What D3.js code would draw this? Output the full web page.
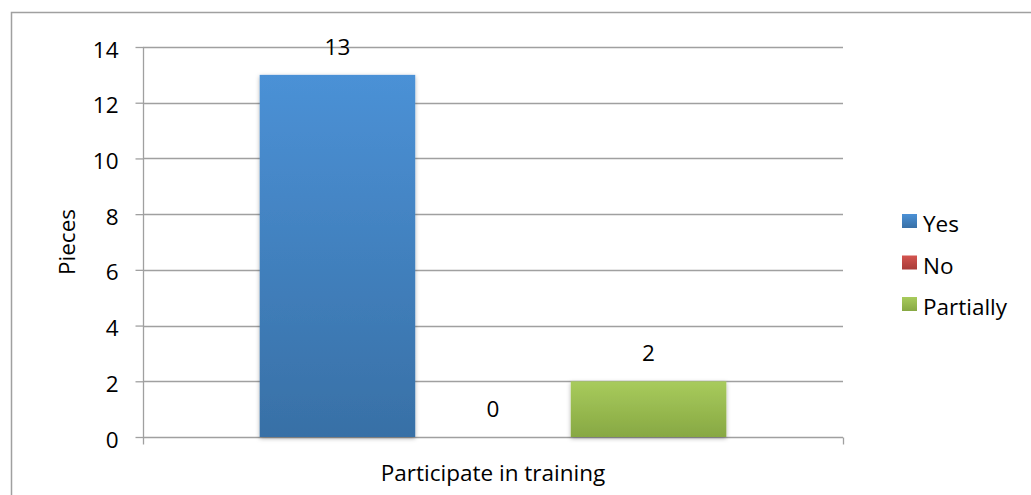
<!DOCTYPE html>
<html>
<head>
<meta charset="utf-8">
<script src="https://cdn.jsdelivr.net/npm/d3@7"></script>
<style>
  html, body { margin: 0; padding: 0; background: #fff; }
  svg { display: block; font-family: "Open Sans", "Lato", sans-serif; }
</style>
</head>
<body>
<svg id="chart" width="1031" height="495"></svg>
<script>
// Survey answers: participation in training
const categories = ["Participate in training"];
const seriesNames = ["Yes", "No", "Partially"];
const seriesValues = [13, 0, 2];
const yTicks = [0, 2, 4, 6, 8, 10, 12, 14];

const colors = {
  Yes: ["#4b91d6", "#3870a6"],
  No: ["#d4544f", "#a83c39"],
  Partially: ["#a8cb5c", "#87a843"]
};

const FS = 22.5;
const svg = d3.select("#chart");
const W = 1031, H = 495;
const plot = { left: 143, right: 843, top: 47, bottom: 437 };

// Gradients and shadow
const defs = svg.append("defs");
seriesNames.forEach((s, i) => {
  const g = defs.append("linearGradient")
    .attr("id", "grad" + i).attr("x1", 0).attr("y1", 0).attr("x2", 0).attr("y2", 1);
  g.append("stop").attr("offset", "0%").attr("stop-color", colors[s][0]);
  g.append("stop").attr("offset", "100%").attr("stop-color", colors[s][1]);
});
const f = defs.append("filter").attr("id", "shadow")
  .attr("x", "-10%").attr("y", "-10%").attr("width", "120%").attr("height", "120%");
f.append("feDropShadow").attr("dx", 0).attr("dy", 1.5).attr("stdDeviation", 2)
  .attr("flood-color", "#000").attr("flood-opacity", 0.3);

// Outer chart border
svg.append("rect")
  .attr("x", 11.5).attr("y", 12.5).attr("width", W + 10).attr("height", H + 10)
  .attr("fill", "none").attr("stroke", "#a0a0a0").attr("stroke-width", 1.5);

const y = d3.scaleLinear().domain([0, 14]).range([plot.bottom, plot.top]);
const x0 = d3.scaleBand().domain(categories).range([plot.left, plot.right]).paddingInner(0).paddingOuter(0);
const x1 = d3.scaleBand().domain(seriesNames)
  .range([0, x0.bandwidth()]).paddingOuter(0.75).paddingInner(0);

// Gridlines
svg.append("g").selectAll("line").data(yTicks.filter(t => t > 0)).join("line")
  .attr("x1", plot.left).attr("x2", plot.right)
  .attr("y1", d => Math.round(y(d)) + 0.5).attr("y2", d => Math.round(y(d)) + 0.5)
  .attr("stroke", "#a0a0a0").attr("stroke-width", 1.3);

// Y axis
const yAxis = svg.append("g").attr("transform", `translate(${plot.left + 0.5},0)`)
  .call(d3.axisLeft(y).tickValues(yTicks).tickSize(8).tickPadding(17).tickFormat(d3.format("d")));
yAxis.select(".domain").attr("stroke", "#a0a0a0").attr("stroke-width", 1.3)
  .attr("d", `M0,${plot.top}V${plot.bottom + 1}`);
yAxis.selectAll(".tick line").attr("stroke", "#a0a0a0").attr("stroke-width", 1.3);
yAxis.selectAll(".tick text").attr("font-size", FS).attr("fill", "#000")
  .attr("font-family", "'Open Sans', sans-serif")
  .attr("dy", "0.45em").attr("x", -25);

// X axis
const xAxis = svg.append("g").attr("transform", `translate(0,${plot.bottom + 0.5})`)
  .call(d3.axisBottom(x0).tickSize(0).tickFormat(""));
xAxis.select(".domain").remove();
xAxis.append("line").attr("x1", plot.left).attr("x2", plot.right)
  .attr("stroke", "#a0a0a0").attr("stroke-width", 1.3);
xAxis.selectAll(".edge").data([plot.left, plot.right]).join("line")
  .attr("x1", d => d + 0.5).attr("x2", d => d + 0.5).attr("y1", 0).attr("y2", 7)
  .attr("stroke", "#a0a0a0").attr("stroke-width", 1.3);

// Bars
const group = svg.append("g").selectAll("g").data(categories).join("g")
  .attr("transform", d => `translate(${x0(d)},0)`);
group.selectAll("rect")
  .data(() => seriesNames.map((s, i) => ({ s, v: seriesValues[i], i })))
  .join("rect")
  .attr("x", d => x1(d.s)).attr("width", x1.bandwidth())
  .attr("y", d => y(d.v)).attr("height", d => y(0) - y(d.v))
  .attr("fill", d => `url(#grad${d.i})`)
  .attr("filter", "url(#shadow)");

// Value labels
group.selectAll("text.val")
  .data(() => seriesNames.map((s, i) => ({ s, v: seriesValues[i] })))
  .join("text").attr("class", "val")
  .attr("x", d => x1(d.s) + x1.bandwidth() / 2)
  .attr("y", d => y(d.v) - 20)
  .attr("text-anchor", "middle").attr("font-size", FS).attr("fill", "#000")
  .text(d => d.v);

// Axis titles
svg.append("text")
  .attr("x", (plot.left + plot.right) / 2).attr("y", 481)
  .attr("text-anchor", "middle").attr("font-size", FS).attr("fill", "#000")
  .text(categories[0]);
svg.append("text")
  .attr("transform", `translate(75,242) rotate(-90)`)
  .attr("text-anchor", "middle").attr("font-size", FS).attr("fill", "#000")
  .text("Pieces");

// Legend
const legend = svg.append("g").attr("transform", "translate(902,214)");
const li = legend.selectAll("g").data(seriesNames).join("g")
  .attr("transform", (d, i) => `translate(0,${i * 41.5})`);
li.append("rect").attr("width", 15).attr("height", 14).attr("y", 0)
  .attr("fill", (d, i) => `url(#grad${i})`);
li.append("text").attr("x", 21).attr("y", 18)
  .attr("font-size", FS).attr("fill", "#000").text(d => d);
</script>
</body>
</html>
